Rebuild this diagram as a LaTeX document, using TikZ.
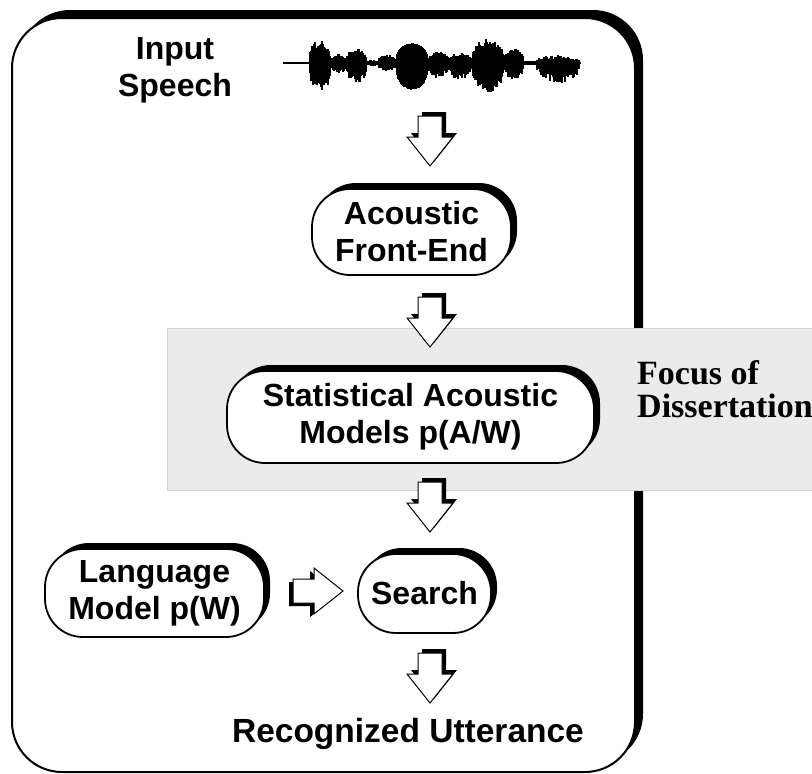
\documentclass[tikz,border=0pt]{standalone}
\usepackage{fontspec}
\setsansfont{Liberation Sans}
\newfontfamily\serifbf{Liberation Serif}
\usetikzlibrary{shadows}
\definecolor{focusgray}{HTML}{EBEBEB}
\definecolor{focusedge}{HTML}{D3D3D3}
\tikzset{
  blackshadow/.style={drop shadow={shadow xshift=#1,shadow yshift=#1,fill=black,opacity=1}},
  box/.style={draw,line width=1.8pt,fill=white,rounded corners=38pt,align=center,inner sep=0pt,
    font=\sffamily\bfseries\fontsize{32}{37}\selectfont,blackshadow=6pt},
  lbl/.style={align=center,inner sep=0pt,font=\sffamily\bfseries\fontsize{32}{37}\selectfont},
  blk/.style={draw,line width=1pt,fill=white,line join=miter,blackshadow=4pt},
  blkr/.style={draw,line width=1pt,fill=white,line join=miter,
    drop shadow={shadow xshift=-4pt,shadow yshift=-3pt,fill=black,opacity=1}},
  downarr/.pic={\path[blk] (-12,0) -- (12,0) -- (12,21) -- (23,21) -- (0,50) -- (-23,21) -- (-12,21) -- cycle;},
  rightarr/.pic={\path[blkr] (0,-12) -- (21,-12) -- (21,-23) -- (50,0) -- (21,23) -- (21,12) -- (0,12) -- cycle;},
}
\begin{document}
\begin{tikzpicture}[x=1pt,y=-1pt,line join=round]
\useasboundingbox (0,0) rectangle (812,774);
% --- outer frame with black offset shadow
\path[draw,line width=2pt,fill=white,rounded corners=50pt,blackshadow=8pt] (12,18) rectangle (635,772);
% --- focus band
\path[fill=focusgray,draw=focusedge,line width=1pt] (167,328) rectangle (813,490);
% --- speech waveform
\pgfmathsetseed{1234}
\draw[line width=1.6pt] (283,63) -- (580,63);
\foreach \xa/\xb/\up/\dn/\rg in {309/331/22/29/0.45,331/346/8/10/0.4,346/367/14/20/0.45,367/378/2/2/0.5,
  378/396/7/7/0.3,396/428/19/26/0.05,428/449/11/14/0.4,449/472/9/16/0.4,472/504/24/29/0.4,
  504/524/14/16/0.4,524/536/1/1/0.3,536/580/7/20/0.6}{
  \foreach \x in {\xa,...,\xb}{
    \draw[line width=1.2pt] (\x,{63-1-\up*pow(sin(180*(\x-\xa)/(\xb-\xa)),0.35)*(1-\rg*rnd)})
      -- (\x,{63+1+\dn*pow(sin(180*(\x-\xa)/(\xb-\xa)),0.35)*(1-\rg*rnd)});
  }
}
% --- block arrows
\coordinate (a1) at (430,116);
\coordinate (a2) at (430,297);
\coordinate (a3) at (430,482);
\coordinate (a4) at (430,653);
\coordinate (a5) at (293,591);
\foreach \c in {a1,a2,a3,a4} {\pic at (\c) {downarr};}
\pic at (a5) {rightarr};
% --- boxes
\node[box,minimum width=199pt,minimum height=86pt] (front) at (411.5,232) {Acoustic\\Front-End};
\node[box,minimum width=367pt,minimum height=92pt] (stat) at (410.5,417) {Statistical Acoustic\\Models p(A/W)};
\node[box,minimum width=219pt,minimum height=88pt] (lang) at (154.5,593) {Language\\Model p(W)};
\node[box,minimum width=133pt,minimum height=79pt] (search) at (424.5,593.5) {Search};
% --- labels
\node[lbl,anchor=north] (input) at (175,37) {Input\\Speech};
\node[lbl,anchor=base,font=\sffamily\bfseries\fontsize{33.5}{37}\selectfont] (utt) at (408,742) {Recognized Utterance};
\node[anchor=north west,align=left,inner sep=0pt,font=\serifbf\bfseries\fontsize{34}{33}\selectfont] (focus) at (637,360) {Focus of\\Dissertation};
\end{tikzpicture}
\end{document}
